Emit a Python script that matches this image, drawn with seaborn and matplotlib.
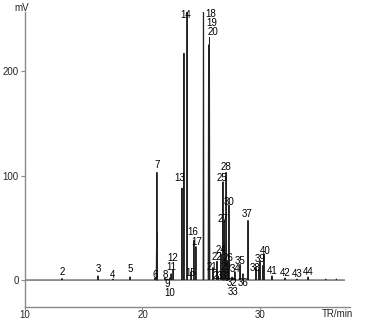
import numpy as np
import pandas as pd
import matplotlib
matplotlib.use("Agg")
import matplotlib.pyplot as plt
import seaborn as sns

# ---- data ----
peak_ids = [str(i) for i in range(2, 45)]
peak_times = [13.15, 16.21, 17.49, 18.94, 21.06, 21.23, 21.91, 22.09, 22.34, 22.43,
              22.60, 23.36, 23.79, 24.13, 24.38, 24.55, 25.19, 25.62, 25.70, 26.00,
              26.34, 26.43, 26.68, 26.85, 27.19, 26.94, 27.11, 27.23, 27.36, 27.28,
              27.62, 27.70, 27.87, 28.30, 28.55, 28.98, 29.66, 30.00, 30.34, 31.02,
              32.13, 33.15, 34.09]
peak_heights = [1.5, 4, 1, 3, 2, 103, 2, 1, 2, 6,
                10, 88, 400, 8, 38, 32, 400, 225, 232, 12,
                18, 4, 25, 94, 18, 57, 103, 10, 72, 4,
                3, 2, 8, 15, 6, 57, 12, 18, 25, 4,
                2, 1, 3]
# unlabelled peaks / shoulders
extra_times = [21.20, 23.53, 26.90, 27.15, 29.90, 30.25, 35.6, 36.5]
extra_heights = [46, 217, 40, 30, 10, 14, 1, 1]

# label anchor positions (layout, picture pixels)
label_px = [(62, 272), (98, 269), (113, 275), (130, 269), (155, 275), (157, 165),
            (165, 275), (167, 284), (170, 293), (171, 267), (173, 258), (180, 178),
            (186, 15), (191, 273), (193, 232), (197, 242), (211, 14), (212, 23),
            (213, 32), (212, 267), (217, 257), (218, 276), (221, 250), (222, 178),
            (228, 258), (223, 219), (226, 167), (226, 267), (229, 202), (226, 276),
            (232, 283), (233, 292), (235, 269), (240, 261), (243, 283), (247, 214),
            (255, 268), (260, 259), (265, 251), (272, 271), (285, 273), (297, 274),
            (308, 272)]

x_ticks = [10, 20, 30]
y_ticks = [0, 100, 200]

# ---- build the trace from the peak list ----
w = 0.035
all_t = peak_times + extra_times
all_h = peak_heights + extra_heights
order = np.argsort(all_t)
tr_t = [10.1]
tr_v = [0.0]
for i in order:
    t, h = all_t[i], all_h[i]
    tr_t += [t - w, t, t + w]
    tr_v += [0.0, h, 0.0]
tr_t.append(37.2)
tr_v.append(0.0)
df = pd.DataFrame({"t": tr_t, "v": tr_v})

sns.set_style("white")
plt.rcParams['font.family'] = ['Liberation Sans', 'DejaVu Sans']

fig = plt.figure(figsize=(3.7, 3.21), dpi=100)
ax = fig.add_axes([25 / 370, (321 - 307) / 321, (350 - 25) / 370, (307 - 12) / 321])

sns.lineplot(data=df, x="t", y="v", sort=False, estimator=None, ax=ax,
             color="#222222", linewidth=0.7)


def px2data(px, py):
    return 10 + (px - 25) / 11.75, (280 - py) / 1.045


for lab, (px, py) in zip(peak_ids, label_px):
    lx, ly = px2data(px, py)
    ax.text(lx, ly, lab, ha="center", va="center", fontsize=7, color="black",
            clip_on=False)

ax.set_xlim(10, 37.66)
ax.set_ylim(-25.8, 256.5)
ax.set_xticks(x_ticks)
ax.set_yticks(y_ticks)
ax.set_xlabel("")
ax.set_ylabel("")
for s in ["top", "right"]:
    ax.spines[s].set_visible(False)
for s in ["left", "bottom"]:
    ax.spines[s].set_color("#8a8a8a")
    ax.spines[s].set_linewidth(1.0)
ax.tick_params(axis="both", which="both", length=3, width=0.8, color="#8a8a8a",
               labelsize=7, pad=1.5, left=True, bottom=True)
ax.tick_params(axis="x", length=2, pad=0.5)

fig.text(22 / 370, 1 - 8 / 321, "mV", ha="center", va="center", fontsize=7)
fig.text(337 / 370, 1 - 314 / 321, "TR/min", ha="center", va="center", fontsize=7)

fig.savefig("out.png", dpi=100)
